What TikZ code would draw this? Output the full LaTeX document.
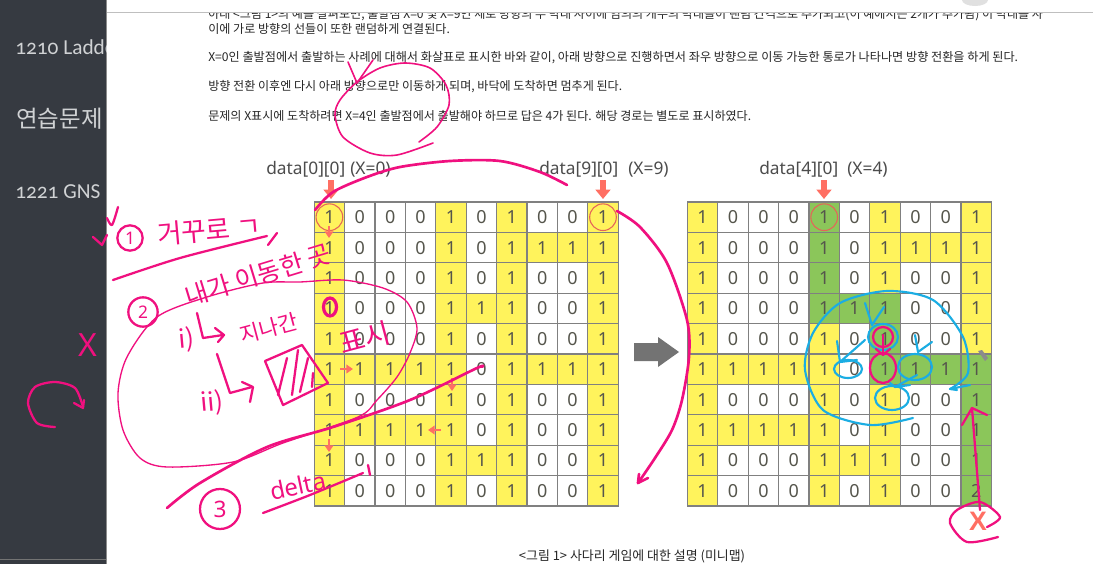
\documentclass[tikz,border=0pt]{standalone}
\usepackage{fontspec}
\setmainfont{Noto Sans}
\newfontfamily\krfont{Noto Sans CJK KR}
\newfontfamily\sidefont[Numbers=OldStyle]{Carlito}
\newfontfamily\goalfont{Liberation Sans}
\usetikzlibrary{arrows.meta}
\definecolor{sidedark}{HTML}{363A41}
\definecolor{sidetext}{HTML}{D0D2D4}
\definecolor{celly}{HTML}{FFF35C}
\definecolor{cellg}{HTML}{8BC65A}
\definecolor{pinkpen}{HTML}{F0107F}
\definecolor{bluepen}{HTML}{1BADE3}
\definecolor{salmon}{HTML}{FF6F63}
\definecolor{inktext}{HTML}{55554C}
\tikzset{
  cellbase/.style={draw=black!50, line width=0.8pt, minimum size=22.8pt, inner sep=0pt, outer sep=0pt, text=inktext, font=\fontsize{13.5}{14}\selectfont},
  cell0/.style={cellbase, fill=white},
  cell1/.style={cellbase, fill=celly},
  cellg/.style={cellbase, fill=cellg},
  bodytext/.style={anchor=west, inner sep=0pt, text=black!85, font=\krfont\fontsize{9.05}{10}\selectfont},
  headtext/.style={anchor=base west, inner sep=0pt, text=black!70, font=\fontsize{13}{14}\selectfont},
  sidetxt/.style={anchor=base west, inner sep=0pt, text=sidetext},
  flow/.style={salmon, line width=2.2pt, -{Triangle[length=5pt, width=6.5pt]}},
  startmark/.style={salmon, line width=4pt, -{Triangle[length=7pt, width=11pt]}},
  startring/.style={circle, draw=salmon!90!black, line width=0.8pt, minimum size=20pt, inner sep=0pt},
  pinkline/.style={pinkpen, line width=1.7pt, line cap=round, line join=round},
  pinkthin/.style={pinkpen, line width=1pt, line cap=round, line join=round},
  blueline/.style={bluepen, line width=1.6pt, line cap=round, line join=round},
  handtext/.style={pinkpen, inner sep=0pt, font=\krfont},
  numring/.style={circle, draw=pinkpen, line width=1.7pt, inner sep=0pt, text=pinkpen, font=\fontsize{13}{14}\selectfont},
}
\begin{document}
\begin{tikzpicture}[x=0.75pt, y=-0.75pt]
  \useasboundingbox (0,0) rectangle (1093,564);
  \fill[white] (0,0) rectangle (1093,564);
  % side bar
  \fill[sidedark] (0,0) rectangle (106.5,564);
  \draw[black!45, line width=0.6pt] (106.5,0) -- (106.5,564);
  \draw[black!55, line width=0.5pt] (0,559) -- (106,559);
  \begin{scope}
    \clip (0,0) rectangle (106,564);
    \node[sidetxt, font=\sidefont\fontsize{16}{17}\selectfont] (side1) at (15,55) {1210 Ladder};
    \node[sidetxt, font=\krfont\fontsize{17.6}{18}\selectfont] (side2) at (16,127) {연습문제};
    \node[sidetxt, font=\sidefont\fontsize{16}{17}\selectfont] (side3) at (15,198) {1221 GNS};
  \end{scope}
  % body text
  \fill[black!12] (975,0) ellipse (13 and 6);
  \draw[black!25, line width=0.8pt] (107,12.3) -- (1093,12.3);
  \begin{scope}
    \clip (107,13) rectangle (1093,564);
    \node[bodytext] (line0) at (208,14.5) {아래 <그림 1>의 예를 살펴보면, 출발점 X=0 및 X=9인 세로 방향의 두 막대 사이에 임의의 개수의 막대들이 랜덤 간격으로 추가되고(이 예에서는 2개가 추가됨) 이 막대를 사};
  \end{scope}
  \node[bodytext] (line1) at (208,29) {이에 가로 방향의 선들이 또한 랜덤하게 연결된다.};
  \node[bodytext, font=\krfont\fontsize{9.1}{10}\selectfont] (line2) at (208,57.5) {X=0인 출발점에서 출발하는 사례에 대해서 화살표로 표시한 바와 같이, 아래 방향으로 진행하면서 좌우 방향으로 이동 가능한 통로가 나타나면 방향 전환을 하게 된다.};
  \node[bodytext] (line3) at (208,86.5) {방향 전환 이후엔 다시 아래 방향으로만 이동하게 되며, 바닥에 도착하면 멈추게 된다.};
  \node[bodytext] (line4) at (208,115.5) {문제의 X표시에 도착하려면 X=4인 출발점에서 출발해야 하므로 답은 4가 된다. 해당 경로는 별도로 표시하였다.};
  \node[bodytext, anchor=center, font=\krfont\fontsize{9.7}{10}\selectfont] (caption) at (632,556) {<그림 1> 사다리 게임에 대한 설명 (미니맵)};
  % left grid
  \foreach \row [count=\rowno from 0] in {
    {1,0,0,0,1,0,1,0,0,1},{1,0,0,0,1,0,1,1,1,1},{1,0,0,0,1,0,1,0,0,1},{1,0,0,0,1,1,1,0,0,1},{1,0,0,0,1,0,1,0,0,1},
    {1,1,1,1,1,0,1,1,1,1},{1,0,0,0,1,0,1,0,0,1},{1,1,1,1,1,0,1,0,0,1},{1,0,0,0,1,1,1,0,0,1},{1,0,0,0,1,0,1,0,0,1}}
    \foreach \val [count=\colno from 0] in \row
      \node[style=cell\val] (L\rowno-\colno) at ({329.4+30.4*\colno},{217.2+30.4*\rowno}) {\val};
  % right grid
  \foreach \row [count=\rowno from 0] in {
    {1,0,0,0,g/1,0,1,0,0,1},{1,0,0,0,g/1,0,1,1,1,1},{1,0,0,0,g/1,0,1,0,0,1},{1,0,0,0,g/1,g/1,g/1,0,0,1},{1,0,0,0,1,0,g/1,0,0,1},
    {1,1,1,1,1,0,g/1,g/1,g/1,g/1},{1,0,0,0,1,0,1,0,0,g/1},{1,1,1,1,1,0,1,0,0,g/1},{1,0,0,0,1,1,1,0,0,g/1},{1,0,0,0,1,0,1,0,0,g/2}}
    \foreach \val/\txt [count=\colno from 0] in \row
      \node[style=cell\val] (R\rowno-\colno) at ({702.6+30.4*\colno},{217.2+30.4*\rowno}) {\txt};
  % column heads
  \node[headtext] (head0) at (266,174) {data[0][0]};
  \node[headtext] (headx0) at (350,174) {(X=0)};
  \node[headtext] (head9) at (539,174) {data[9][0]};
  \node[headtext] (headx9) at (628,174) {(X=9)};
  \node[headtext] (head4) at (759,174) {data[4][0]};
  \node[headtext] (headx4) at (847,174) {(X=4)};
  \coordinate (top0) at (331,180);
  \coordinate (top9) at (603,180);
  \coordinate (top4) at (824,180);
  \draw[startmark] (top0) -- ++(0,19);
  \draw[startmark] (top9) -- ++(0,19);
  \draw[startmark] (top4) -- ++(0,19);
  \node[startring] (ring0) at (L0-0) {};
  \node[startring] (ring9) at (L0-9) {};
  \node[startring] (ring4) at (R0-4) {};
  % path arrows in the left grid
  \draw[flow] (329,226) -- (329,238);
  \draw[flow] (340,369) -- (353,369);
  \draw[flow] (452,378) -- (452,391);
  \draw[flow] (441,430) -- (428,430);
  \draw[flow] (329,439) -- (329,452);
  % arrow between the grids
  \fill[black!55] (634,343) -- (658,343) -- (658,337) -- (679,352) -- (658,367) -- (658,361) -- (634,361) -- cycle;
  % red X
  \node[text=salmon, inner sep=0pt, font=\goalfont\bfseries\fontsize{20}{21}\selectfont] (goal) at (978,521) {X};
  % pink notes, left
  \draw[pinkline] plot[smooth] coordinates {(107,218) (112,225) (118,207)};
  \draw[pinkline] plot coordinates {(93,237) (102,245) (107,235)};
  \node[numring, minimum size=19pt] (num1) at (130,238) {1};
  \node[handtext, rotate=5, font=\krfont\fontsize{20}{21}\selectfont] (note1) at (209,230) {거꾸로 ㄱ};
  \draw[pinkline] plot[smooth] coordinates {(113,280) (180,258) (267,236)};
  \draw[pinkline] (268,245) -- (277,233);
  \node[numring, minimum size=22pt] (num2) at (143,312) {2};
  \node[handtext, rotate=17, font=\krfont\fontsize{19}{20}\selectfont] (note2) at (258,275) {내가 이동한 곳};
  \draw[pinkthin] plot[smooth cycle] coordinates {(300,282) (343,280) (383,288) (407,302) (417,328) (410,353) (397,377) (377,400) (358,417) (283,443) (233,462) (167,467) (140,458) (123,430) (118,393) (127,357) (157,317) (207,297) (263,283)};
  \node[handtext, rotate=5, font=\krfont\fontsize{19}{20}\selectfont] (subi) at (187,340) {i)};
  \draw[pinkline] plot coordinates {(197,313) (203,338) (223,335)};
  \draw[pinkline] plot coordinates {(215,328) (224,335) (218,342)};
  \node[handtext, rotate=15, font=\krfont\fontsize{16}{17}\selectfont] (passed) at (269,328) {지나간};
  \node[handtext, rotate=5, font=\krfont\fontsize{19}{20}\selectfont] (subii) at (212,403) {ii)};
  \draw[pinkline] plot coordinates {(217,354) (230,393) (252,387)};
  \draw[pinkline] plot coordinates {(242,382) (253,387) (250,402)};
  \draw[pinkline] plot coordinates {(265,361) (302,345) (328,383) (283,405) (265,361)};
  \draw[pinkline] (287,358) -- (278,395);
  \draw[pinkline] (298,350) -- (292,395);
  \draw[pinkline] (308,358) -- (300,392);
  \draw[pinkline] (313,373) -- (312,387);
  \node[handtext, rotate=15, font=\krfont\fontsize{21}{22}\selectfont] (mark) at (365,338) {표시};
  \draw[pinkline, line width=2.4pt] (330,307) ellipse (6.5 and 9);
  \node[numring, minimum size=30pt, font=\fontsize{17}{18}\selectfont] (num3) at (220,509) {3};
  \node[handtext, rotate=12, font=\fontsize{18}{19}\selectfont] (delta) at (298,486) {delta};
  \draw[pinkline] plot[smooth] coordinates {(263,513) (310,495) (363,473)};
  \draw[pinkline] (368,465) -- (370,475);
  \draw[pinkline, line width=2pt] plot[smooth] coordinates {(167,508) (200,483) (267,447) (333,427) (410,400) (477,368) (482,367)};
  \node[handtext, font=\fontsize{24}{25}\selectfont] (notex) at (88,345) {X};
  \draw[pinkline] plot[smooth] coordinates {(55,427) (37,423) (28,403) (35,387) (55,382) (75,388) (83,407)};
  \draw[pinkline] plot coordinates {(74,403) (83,408) (84,400)};
  % pink notes, top
  \draw[pinkline, line width=1.2pt] plot[smooth] coordinates {(419,142) (437,127) (449,105) (446,85) (430,68) (405,63) (380,68) (357,82) (340,100) (335,115) (343,137) (370,153) (397,155) (433,143)};
  \draw[pinkline, line width=1.2pt] (348,62) -- (357,83) -- (373,60);
  % long pink arcs
  \draw[pinkline, line width=2pt] plot[smooth] coordinates {(315,210) (333,192) (367,177) (400,167) (450,161) (500,161) (540,172) (567,185)};
  \draw[pinkline, line width=2pt] plot[smooth] coordinates {(617,211) (640,227) (667,263) (687,320) (689,357) (682,400) (672,430) (655,458) (638,483)};
  \draw[pinkline, line width=2pt] plot coordinates {(639,474) (638,483) (648,478)};
  % notes on the right grid
  \draw[blueline] plot[smooth] coordinates {(913,418) (870,425) (823,410) (805,370) (813,333) (840,303) (887,291) (933,300) (963,337) (968,373) (950,389)};
  \draw[blueline] plot coordinates {(970,385) (950,389) (957,390)};
  \draw[blueline] (865,303) -- (872,325) -- (884,307);
  \draw[blueline] (883,337) ellipse (15 and 13);
  \draw[blueline] (865,340) -- (840,362);
  \draw[blueline] (837,341) -- (840,362) -- (857,360);
  \draw[blueline] (848,369) ellipse (14 and 9);
  \draw[blueline] (915,335) -- (918,352) -- (932,342);
  \draw[blueline] (915,367) ellipse (17 and 13);
  \draw[blueline] (917,375) -- (895,387);
  \draw[blueline] (890,383) -- (895,387) -- (910,385);
  \draw[blueline] (892,398) ellipse (17 and 12);
  \draw[pinkline] (883,337) ellipse (10 and 10);
  \draw[pinkline] (883,335) -- (883,355);
  \draw[pinkline] (876,349) -- (883,355) -- (890,349);
  \draw[pinkline] (883,368) ellipse (13 and 15);
  \draw[pinkline] (980,510) -- (972,408);
  \draw[pinkline] (962,425) -- (972,408) -- (987,415);
  \draw[pinkline] plot[smooth] coordinates {(987,527) (1000,517) (980,502) (957,510) (950,523) (967,542) (998,537)};
  % cursor
  \fill[black!45] (978,351) -- (982,350) -- (988,358) -- (985,361) -- cycle;
\end{tikzpicture}
\end{document}
